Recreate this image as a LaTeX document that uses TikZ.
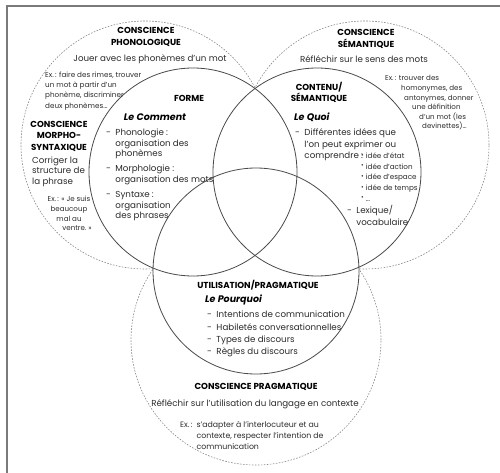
\documentclass[tikz,border=0pt]{standalone}
\usepackage{fontspec}
\setmainfont{Poppins}
\usepackage{graphicx}

\definecolor{encre}{HTML}{2B2B2B}
\definecolor{trait}{HTML}{4A4A4A}
\definecolor{pointe}{HTML}{8A8A8A}
\definecolor{bord}{HTML}{7A7A7A}

\newcommand{\puce}{\raisebox{1.2pt}{\fontsize{6.5}{6}\selectfont•}\hspace{2pt}}

\tikzset {
    plein/.style={draw=trait, line width=0.8pt},
    pointille/.style={draw=pointe, line width=0.6pt, dash pattern=on 1.6pt off 1.4pt},
    cadre/.style={draw=bord, line width=1.2pt},
    titre/.style={font=\fontsize{8.7}{11.5}\selectfont\bfseries, align=center, inner sep=0pt, text=black},
    texte/.style={font=\fontsize{8.7}{10.5}\selectfont, align=left, inner sep=0pt, text=encre},
    exemple/.style={font=\fontsize{7.2}{10.3}\selectfont, align=left, inner sep=0pt, text=encre},
    question/.style={font=\fontsize{9.5}{10}\selectfont\bfseries\itshape, inner sep=0pt, text=black},
}

\begin{document}
\begin{tikzpicture}[x=1pt, y=-1pt]
    \useasboundingbox (0,0) rectangle (500,473);
    \draw [cadre] (7,473) -- (7,6) -- (500,6);

    % centres des cercles
    \coordinate (cForme) at (193,172);
    \coordinate (cContenu) at (317,172);
    \coordinate (cUtil) at (256,271);
    \coordinate (cPhono) at (145,145);
    \coordinate (cSeman) at (365,145);
    \coordinate (cPrag) at (256,340);

    % consciences (pointilles), caches sous les cercles pleins
    \draw [pointille] (cPhono) circle [radius=124pt];
    \draw [pointille] (cSeman) circle [radius=124pt];
    \draw [pointille] (cPrag) circle [radius=125pt];
    \fill [white] (cForme) circle [radius=104pt] (cContenu) circle [radius=104pt] (cUtil) circle [radius=103pt];
    \draw [plein] (cForme) circle [radius=104pt];
    \draw [plein] (cContenu) circle [radius=104pt];
    \draw [plein] (cUtil) circle [radius=103pt];

    % conscience phonologique
    \node (phonoTitre) at (146,37) [titre] {CONSCIENCE\\PHONOLOGIQUE};
    \node (phonoTexte) at (150,59) [texte] {Jouer avec les phonèmes d'un mot};
    \node (phonoEx) at (45,71.5) [exemple, anchor=north west] {Ex.\,: faire des rimes, trouver\\un mot à partir d'un\\phonème, discriminer\\deux phonèmes\ldots};

    % conscience morpho-syntaxique
    \node (morphoTitre) at (59,136) [titre] {CONSCIENCE\\MORPHO-\\SYNTAXIQUE};
    \node (morphoTexte) at (32,156.5) [texte, anchor=north west] {Corriger la\\structure de\\la phrase};
    \node (morphoEx) at (69,213.5) [exemple, align=center, font=\fontsize{7.1}{9.7}\selectfont] {Ex.\,: «~Je suis\\beaucoup\\mal au\\\hspace*{16pt}ventre.~»};

    % forme
    \node (forme) at (189,98) [titre] {FORME};
    \node (comment) at (155,117) [question] {Le Comment};
    \node (formeListe) at (106,128) [texte, anchor=north west] {%
        \begin{tabular}{@{}l@{\hspace{4.5pt}}l@{}}
        - & Phonologie :\\
          & organisation des\\
          & phonèmes\\[4.5pt]
        - & Morphologie :\\
          & organisation des mots\\[5pt]
        - & Syntaxe :\\
          & organisation\\
          & des phrases
        \end{tabular}};

    % contenu
    \node (contenu) at (319,92.5) [titre] {CONTENU/\\SÉMANTIQUE};
    \node (quoi) at (294,117) [question, anchor=west] {Le Quoi};
    \node (quoiListe) at (295,127.5) [texte, anchor=north west, font=\fontsize{8.7}{11.5}\selectfont] {%
        \begin{tabular}{@{}l@{\hspace{4.5pt}}l@{}}
        - & Différentes idées que\\
          & l'on peut exprimer ou\\
          & comprendre :
        \end{tabular}};
    \node (idees) at (361,152.5) [exemple, anchor=north west, font=\fontsize{7.2}{10.7}\selectfont] {\puce idée d'état\\\puce idée d'action\\\puce idée d'espace\\\puce idée de temps\\\puce\ldots};
    \node (lexique) at (347,205) [texte, anchor=north west, font=\fontsize{8.7}{12}\selectfont] {%
        \begin{tabular}{@{}l@{\hspace{4.5pt}}l@{}}
        - & Lexique/\\
          & vocabulaire
        \end{tabular}};

    % conscience semantique
    \node (semanTitre) at (366,39) [titre] {CONSCIENCE\\SÉMANTIQUE};
    \node (semanTexte) at (364,59) [texte] {Réfléchir sur le sens des mots};
    \node (semanEx) at (385,75.5) [exemple, anchor=north west, font=\fontsize{7.1}{9.6}\selectfont] {Ex.\,: trouver des\\\hspace*{16pt}homonymes, des\\\hspace*{19pt}antonymes, donner\\\hspace*{27pt}une définition\\\hspace*{34pt}d'un mot (les\\\hspace*{37pt}devinettes)\ldots};

    % utilisation
    \node (util) at (258,285) [titre] {UTILISATION/PRAGMATIQUE};
    \node (pourquoi) at (205,300) [question, anchor=west] {Le Pourquoi};
    \node (pourquoiListe) at (207,309) [texte, anchor=north west, font=\fontsize{8.7}{12.3}\selectfont] {%
        \begin{tabular}{@{}l@{\hspace{4.5pt}}l@{}}
        - & Intentions de communication\\
        - & Habiletés conversationnelles\\
        - & Types de discours\\
        - & Règles du discours
        \end{tabular}};

    % conscience pragmatique
    \node (pragTitre) at (256,387) [titre] {CONSCIENCE PRAGMATIQUE};
    \node (pragTexte) at (255,404) [texte] {Réfléchir sur l'utilisation du langage en contexte};
    \node (pragEx) at (180,419.5) [exemple, anchor=north west, font=\fontsize{7.8}{11}\selectfont] {%
        \begin{tabular}{@{}l@{\hspace{4pt}}l@{}}
        Ex.\,: & s'adapter à l'interlocuteur et au\\
               & contexte, respecter l'intention de\\
               & communication
        \end{tabular}};
\end{tikzpicture}
\end{document}
